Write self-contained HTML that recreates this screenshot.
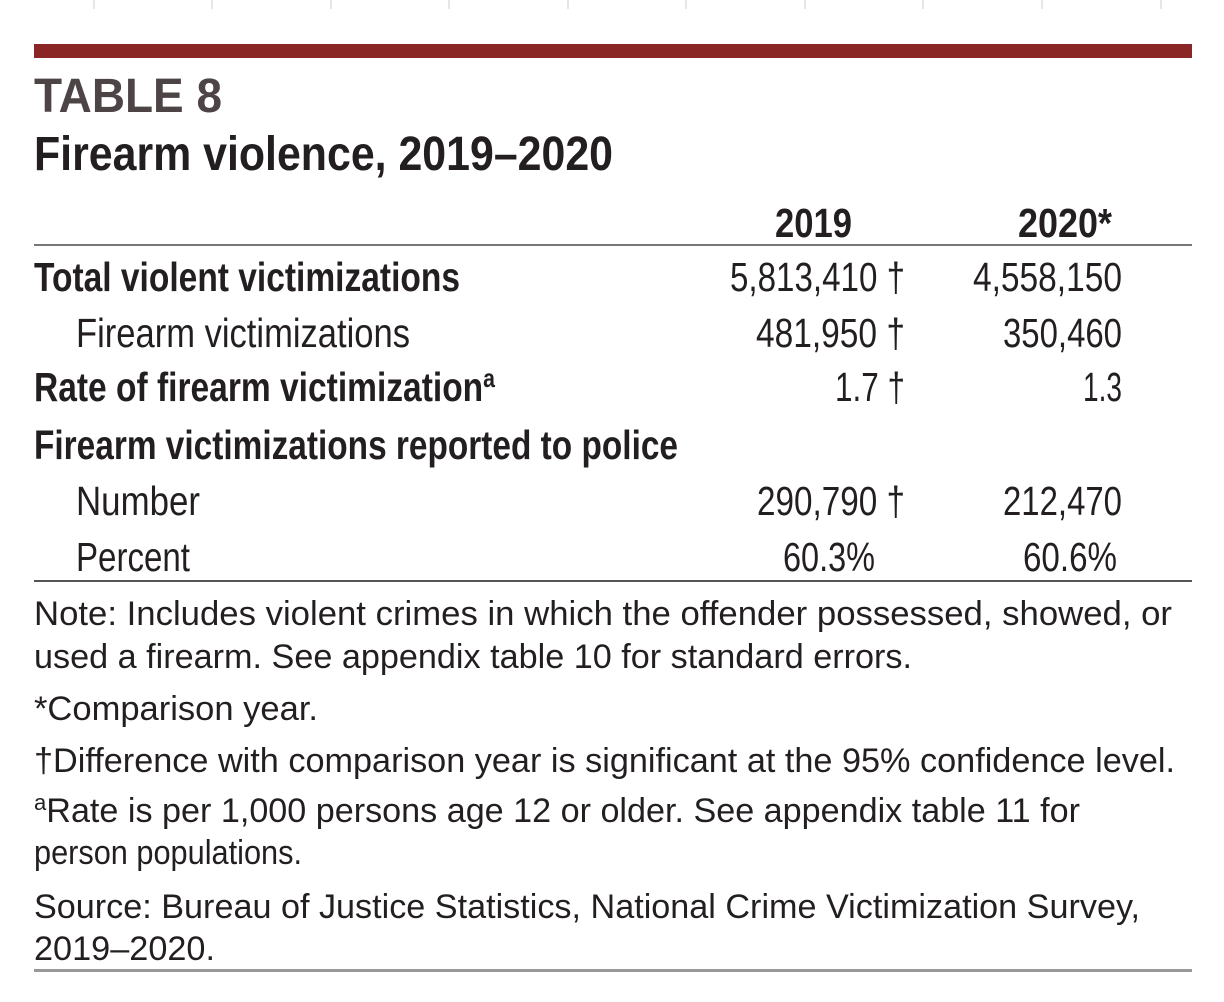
<!DOCTYPE html>
<html><head><meta charset="utf-8"><style>
html,body{margin:0;padding:0;background:#fff;width:1224px;height:1002px;overflow:hidden}
svg{display:block}
text{font-family:"Liberation Sans",sans-serif;fill:#231f20}
.b{font-weight:bold}
</style></head><body>
<svg width="1224" height="1002" viewBox="0 0 1224 1002">
<g stroke="#ccc" stroke-width="1">
<line x1="94" y1="0" x2="94" y2="9"/><line x1="212" y1="0" x2="212" y2="9"/><line x1="331" y1="0" x2="331" y2="9"/><line x1="449" y1="0" x2="449" y2="9"/><line x1="568" y1="0" x2="568" y2="9"/><line x1="686" y1="0" x2="686" y2="9"/><line x1="805" y1="0" x2="805" y2="9"/><line x1="923" y1="0" x2="923" y2="9"/><line x1="1042" y1="0" x2="1042" y2="9"/><line x1="1161" y1="0" x2="1161" y2="9"/>
</g>
<rect x="34" y="44" width="1158" height="14" fill="#8b2626"/>
<text class="b" x="34" y="112" font-size="48" textLength="188" lengthAdjust="spacingAndGlyphs" style="fill:#4d4446">TABLE 8</text>
<text class="b" x="34" y="170" font-size="48" textLength="579" lengthAdjust="spacingAndGlyphs">Firearm violence, 2019–2020</text>
<text class="b" x="775" y="237" font-size="41" textLength="77" lengthAdjust="spacingAndGlyphs">2019</text>
<text class="b" x="1018" y="237" font-size="41" textLength="94" lengthAdjust="spacingAndGlyphs">2020*</text>
<rect x="34" y="244" width="1158" height="2" fill="#777"/>

<text class="b" x="34" y="291" font-size="41" textLength="426" lengthAdjust="spacingAndGlyphs">Total violent victimizations</text>
<text x="76" y="347" font-size="41" textLength="334" lengthAdjust="spacingAndGlyphs">Firearm victimizations</text>
<text class="b" x="34" y="401" font-size="41" textLength="461" lengthAdjust="spacingAndGlyphs">Rate of firearm victimization<tspan font-size="26" dy="-14">a</tspan></text>
<text class="b" x="34" y="459" font-size="41" textLength="644" lengthAdjust="spacingAndGlyphs">Firearm victimizations reported to police</text>
<text x="76" y="515" font-size="41" textLength="124" lengthAdjust="spacingAndGlyphs">Number</text>
<text x="76" y="571" font-size="41" textLength="114" lengthAdjust="spacingAndGlyphs">Percent</text>

<text x="730" y="291" font-size="41" textLength="175" lengthAdjust="spacingAndGlyphs">5,813,410 †</text>
<text x="756" y="347" font-size="41" textLength="149" lengthAdjust="spacingAndGlyphs">481,950 †</text>
<text x="835" y="401" font-size="41" textLength="70" lengthAdjust="spacingAndGlyphs">1.7 †</text>
<text x="757" y="515" font-size="41" textLength="148" lengthAdjust="spacingAndGlyphs">290,790 †</text>
<text x="783" y="571" font-size="41" textLength="92" lengthAdjust="spacingAndGlyphs">60.3%</text>
<text x="973" y="291" font-size="41" textLength="149" lengthAdjust="spacingAndGlyphs">4,558,150</text>
<text x="1003" y="347" font-size="41" textLength="119" lengthAdjust="spacingAndGlyphs">350,460</text>
<text x="1083" y="401" font-size="41" textLength="39" lengthAdjust="spacingAndGlyphs">1.3</text>
<text x="1003" y="515" font-size="41" textLength="119" lengthAdjust="spacingAndGlyphs">212,470</text>
<text x="1023" y="571" font-size="41" textLength="94" lengthAdjust="spacingAndGlyphs">60.6%</text>
<rect x="34" y="580" width="1158" height="2" fill="#555"/>

<text x="34" y="625" font-size="34" textLength="1138" lengthAdjust="spacingAndGlyphs">Note: Includes violent crimes in which the offender possessed, showed, or</text>
<text x="34" y="668" font-size="34" textLength="878" lengthAdjust="spacingAndGlyphs">used a firearm. See appendix table 10 for standard errors.</text>
<text x="34" y="720" font-size="34" textLength="284" lengthAdjust="spacingAndGlyphs">*Comparison year.</text>
<text x="34" y="772" font-size="34" textLength="1141" lengthAdjust="spacingAndGlyphs">†Difference with comparison year is significant at the 95% confidence level.</text>
<text x="34" y="822" font-size="34" textLength="1046" lengthAdjust="spacingAndGlyphs"><tspan font-size="22" dy="-12">a</tspan><tspan dy="12">Rate is per 1,000 persons age 12 or older. See appendix table 11 for</tspan></text>
<text x="34" y="864" font-size="34" textLength="268" lengthAdjust="spacingAndGlyphs">person populations.</text>
<text x="34" y="918" font-size="34" textLength="1106" lengthAdjust="spacingAndGlyphs">Source: Bureau of Justice Statistics, National Crime Victimization Survey,</text>
<text x="34" y="960" font-size="34" textLength="181" lengthAdjust="spacingAndGlyphs">2019–2020.</text>
<rect x="34" y="969" width="1158" height="3" fill="#999"/>
</svg>
</body></html>
